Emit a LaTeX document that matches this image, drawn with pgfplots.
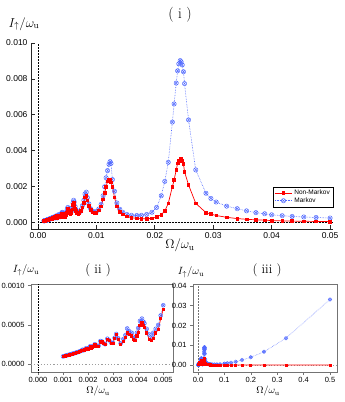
\RequirePackage{fix-cm}
\documentclass[border=0pt]{standalone}
\usepackage{fontspec}
\usepackage{pgfplots}
\usepackage{pgfplotstable}
\pgfplotsset{compat=1.18}
\newfontfamily\hel{Liberation Sans}

\definecolor{nmred}{RGB}{255,0,0}
\definecolor{mblue}{RGB}{80,105,255}
\definecolor{framegray}{RGB}{115,115,115}

% Omega/omega_u, I_up/omega_u  (x = Omega/omega_u)
\pgfplotstableread{
x nm m
0.00100 0.000100 0.000100
0.00105 0.000104 0.000105
0.00110 0.000108 0.000109
0.00115 0.000112 0.000113
0.00120 0.000117 0.000118
0.00125 0.000121 0.000122
0.00130 0.000126 0.000127
0.00135 0.000130 0.000131
0.00140 0.000135 0.000136
0.00145 0.000139 0.000140
0.00150 0.000144 0.000146
0.00155 0.000150 0.000151
0.00160 0.000155 0.000156
0.00165 0.000160 0.000162
0.00170 0.000166 0.000168
0.00175 0.000173 0.000175
0.00178 0.000182 0.000185
0.00182 0.000176 0.000178
0.00186 0.000183 0.000186
0.00192 0.000200 0.000204
0.00196 0.000192 0.000195
0.00200 0.000196 0.000200
0.00204 0.000205 0.000210
0.00208 0.000222 0.000228
0.00212 0.000210 0.000214
0.00215 0.000212 0.000216
0.00220 0.000228 0.000232
0.00227 0.000250 0.000255
0.00235 0.000232 0.000236
0.00242 0.000230 0.000235
0.00249 0.000290 0.000295
0.00255 0.000285 0.000290
0.00262 0.000262 0.000266
0.00268 0.000250 0.000255
0.00277 0.000320 0.000325
0.00284 0.000300 0.000305
0.00292 0.000270 0.000275
0.00299 0.000268 0.000272
0.00306 0.000330 0.000335
0.00312 0.000380 0.000385
0.00320 0.000320 0.000330
0.00330 0.000250 0.000265
0.00341 0.000290 0.000320
0.00349 0.000340 0.000370
0.00356 0.000400 0.000455
0.00364 0.000380 0.000420
0.00374 0.000360 0.000400
0.00380 0.000320 0.000350
0.00387 0.000300 0.000330
0.00395 0.000360 0.000400
0.00400 0.000410 0.000460
0.00407 0.000490 0.000550
0.00415 0.000530 0.000580
0.00421 0.000490 0.000540
0.00425 0.000470 0.000520
0.00434 0.000400 0.000450
0.00444 0.000320 0.000380
0.00454 0.000300 0.000350
0.00460 0.000330 0.000400
0.00470 0.000400 0.000450
0.00480 0.000440 0.000500
0.00490 0.000580 0.000620
0.00500 0.000700 0.000750
0.00510 0.000800 0.000850
0.00525 0.000650 0.000720
0.00540 0.000520 0.000580
0.00555 0.000480 0.000540
0.00570 0.000550 0.000620
0.00585 0.000750 0.000820
0.00600 0.000980 0.001100
0.00610 0.001100 0.001250
0.00620 0.001000 0.001150
0.00635 0.000800 0.000900
0.00650 0.000650 0.000720
0.00670 0.000550 0.000600
0.00690 0.000500 0.000550
0.00710 0.000520 0.000580
0.00735 0.000650 0.000720
0.00760 0.000850 0.000950
0.00785 0.001100 0.001250
0.00805 0.001400 0.001600
0.00826 0.001500 0.001700
0.00845 0.001250 0.001400
0.00870 0.000950 0.001050
0.00900 0.000700 0.000780
0.00935 0.000570 0.000640
0.00970 0.000520 0.000600
0.01000 0.000550 0.000620
0.01040 0.000680 0.000760
0.01080 0.000900 0.001020
0.01115 0.001300 0.001500
0.01140 0.001650 0.002000
0.01166 0.002000 0.002500
0.01190 0.002300 0.002900
0.01215 0.002380 0.003250
0.01234 0.002400 0.003400
0.01250 0.002250 0.003300
0.01274 0.002000 0.002400
0.01310 0.001400 0.001750
0.01350 0.000900 0.001100
0.01400 0.000600 0.000750
0.01450 0.000460 0.000580
0.01520 0.000350 0.000460
0.01600 0.000280 0.000410
0.01690 0.000240 0.000400
0.01770 0.000220 0.000410
0.01860 0.000220 0.000460
0.01950 0.000250 0.000580
0.02030 0.000310 0.000850
0.02110 0.000450 0.001500
0.02170 0.000650 0.002300
0.02230 0.001080 0.003360
0.02300 0.002000 0.005600
0.02330 0.002380 0.006610
0.02366 0.002940 0.007770
0.02390 0.003310 0.008450
0.02410 0.003450 0.008840
0.02434 0.003590 0.009020
0.02450 0.003570 0.008950
0.02469 0.003450 0.008780
0.02490 0.003270 0.008400
0.02508 0.002840 0.007740
0.02577 0.002100 0.005720
0.02700 0.001080 0.002940
0.02875 0.000560 0.001640
0.02960 0.000480 0.001350
0.03050 0.000400 0.001150
0.03230 0.000300 0.000920
0.03410 0.000230 0.000780
0.03570 0.000190 0.000660
0.03730 0.000160 0.000560
0.03880 0.000140 0.000500
0.04000 0.000120 0.000440
0.04180 0.000100 0.000390
0.04350 0.000090 0.000350
0.04550 0.000080 0.000320
0.04760 0.000070 0.000290
0.05000 0.000060 0.000260
0.05560 0.000050 0.000260
0.06250 0.000040 0.000270
0.07140 0.000030 0.000300
0.08330 0.000030 0.000400
0.10000 0.000020 0.000700
0.11110 0.000020 0.000900
0.12500 0.000020 0.001200
0.14290 0.000010 0.001700
0.16670 0.000010 0.002500
0.20000 0.000010 0.003900
0.25000 0.000010 0.006700
0.33330 0.000010 0.013600
0.50000 0.000010 0.033200
}\spectrum

\pgfplotsset{
  base/.style={scale only axis, clip=true, scaled ticks=false,
    tick label style={font=\hel\fontsize{8.5}{9}\selectfont}},
  sub/.style={base, axis line style={framegray, line width=0.8pt},
    tick style={framegray, line width=0.6pt}, tick align=outside,
    major tick length=3pt, xtick pos=bottom, ytick pos=left,
    tick label style={font=\hel\fontsize{7.5}{8}\selectfont},
    xticklabel style={yshift=1.5pt}},
  nm/.style={nmred, line width=0.7pt, mark=square*, mark size=1.3pt},
  mk/.style={mblue, densely dotted, line width=0.6pt, mark=otimes,
    mark size=2.2pt, mark options={solid, line width=0.45pt}},
}

\begin{document}
\begin{tikzpicture}[x=1pt,y=1pt]
\useasboundingbox (0,0) rectangle (345,402);

% ( i )
\begin{axis}[base, at={(31pt,173pt)}, anchor=south west,
  width=302pt, height=186pt,
  xmin=-0.0012, xmax=0.0505, ymin=-0.00035, ymax=0.010,
  axis x line=bottom, axis y line=left,
  axis line style={-, black!85, line width=0.8pt},
  tick style={black!85, line width=0.8pt}, tick align=inside,
  major tick length=4pt,
  xtick={0,0.01,0.02,0.03,0.04,0.05},
  xticklabels={0.00,0.01,0.02,0.03,0.04,0.05},
  ytick={0,0.002,0.004,0.006,0.008,0.010},
  yticklabels={0.000,0.002,0.004,0.006,0.008,0.010},
  legend style={at={(rel axis cs:1,0.118)}, anchor=south east,
    font=\hel\fontsize{6.5}{7}\selectfont, draw=black, line width=0.5pt,
    inner sep=1pt, row sep=-2.5pt, legend cell align=left},
  reverse legend]
\draw[black, densely dotted, line width=0.5pt] (axis cs:0,-0.00035) -- (axis cs:0,0.010);
\draw[black, densely dotted, line width=0.5pt] (axis cs:0,0) -- (axis cs:0.0505,0);
\addplot[mk, restrict x to domain=0:0.0501] table[x=x, y=m] {\spectrum};
\addlegendentry{Markov}
\addplot[nm, restrict x to domain=0:0.0501] table[x=x, y=nm] {\spectrum};
\addlegendentry{Non-Markov}
\end{axis}

% ( ii )
\begin{axis}[sub, at={(31pt,30pt)}, anchor=south west,
  width=142pt, height=88pt,
  xmin=-0.00028, xmax=0.00539, ymin=-0.000098, ymax=0.00102,
  xtick={0,0.001,0.002,0.003,0.004,0.005},
  xticklabels={0.000,0.001,0.002,0.003,0.004,0.005},
  ytick={0,0.0005,0.001},
  yticklabels={0.0000,0.0005,0.0010}]
\draw[black, densely dotted, line width=0.5pt] (axis cs:0,-0.000098) -- (axis cs:0,0.00102);
\draw[framegray!70, dotted, line width=1.2pt] (axis cs:-0.00028,0) -- (axis cs:0.00539,0);
\addplot[mk, mark size=2pt, restrict x to domain=0:0.00501] table[x=x, y=m] {\spectrum};
\addplot[nm, mark size=1.1pt, restrict x to domain=0:0.00501] table[x=x, y=nm] {\spectrum};
\end{axis}

% ( iii )
\begin{axis}[sub, at={(193pt,30pt)}, anchor=south west,
  width=144pt, height=88pt,
  xmin=-0.019, xmax=0.5265, ymin=-0.00354, ymax=0.041,
  xtick={0,0.1,0.2,0.3,0.4,0.5},
  xticklabels={0.0,0.1,0.2,0.3,0.4,0.5},
  ytick={0,0.01,0.02,0.03,0.04},
  yticklabels={0.00,0.01,0.02,0.03,0.04}]
\draw[framegray, densely dotted, line width=0.5pt] (axis cs:0,-0.00354) -- (axis cs:0,0.041);
\draw[framegray!70, dotted, line width=0.8pt] (axis cs:-0.019,0) -- (axis cs:0.5265,0);
\addplot[mk, mark size=1.8pt, line width=0.5pt] table[x=x, y=m] {\spectrum};
\addplot[nm, mark size=1pt] table[x=x, y=nm] {\spectrum};
\end{axis}

% titles and axis labels
\node[font=\fontsize{15}{16}\selectfont] at (180,387) {( i )};
\node[font=\fontsize{13}{14}\selectfont] at (98,132) {( ii )};
\node[font=\fontsize{13}{14}\selectfont] at (267,132) {( iii )};
\node[font=\fontsize{13}{14}\selectfont] at (24,378) {$I_{\uparrow}/\omega_{\mathrm{u}}$};
\node[font=\fontsize{13}{14}\selectfont] at (180,157) {$\Omega/\omega_{\mathrm{u}}$};
\node[font=\fontsize{10.5}{12}\selectfont] at (26,132) {$I_{\uparrow}/\omega_{\mathrm{u}}$};
\node[font=\fontsize{10.5}{12}\selectfont] at (191,130) {$I_{\uparrow}/\omega_{\mathrm{u}}$};
\node[font=\fontsize{10}{11}\selectfont, inner sep=1pt] at (98,11) {$\Omega/\omega_{\mathrm{u}}$};
\node[font=\fontsize{10}{11}\selectfont, inner sep=1pt] at (268,11) {$\Omega/\omega_{\mathrm{u}}$};
\end{tikzpicture}
\end{document}
